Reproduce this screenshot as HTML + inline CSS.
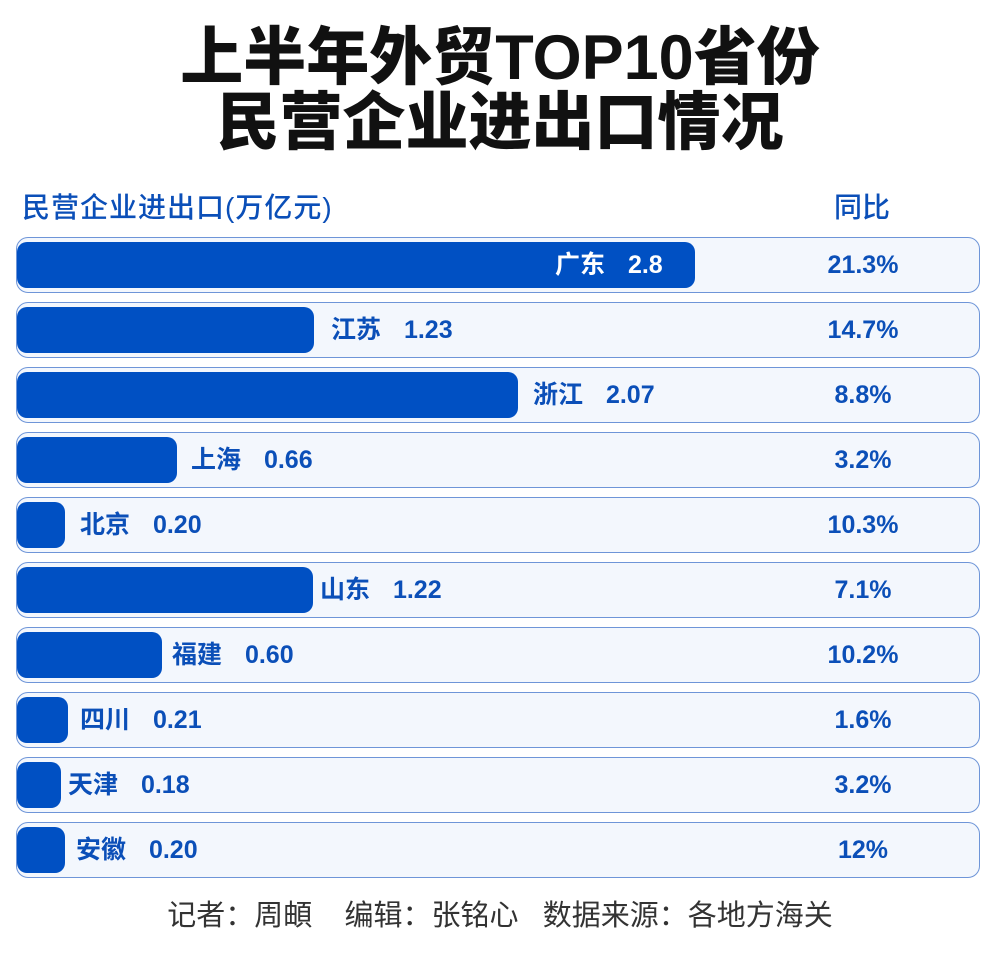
<!DOCTYPE html>
<html><head><meta charset="utf-8"><style>
body{margin:0;width:1000px;height:955px;background:#fff;font-family:"Liberation Sans","Noto Sans CJK SC",sans-serif;position:relative;overflow:hidden}
.t{position:absolute;left:0;width:1000px;text-align:center;font-size:63px;font-weight:900;color:#111;line-height:66px}
.h{position:absolute;font-size:28px;color:#0b4fb8;font-weight:500;line-height:30px}
.row{position:absolute;left:16px;width:962px;height:54px;border:1.5px solid #6e95d8;border-radius:12px;background:#f3f7fd}
.bar{position:absolute;left:0;top:4px;height:46px;background:#0050c3;border-radius:10px}
.lb{position:absolute;top:0;line-height:54px;font-size:25px;font-weight:700;color:#0b4fb8;white-space:nowrap}
.lb b{margin-left:16px}
.p{position:absolute;left:776px;width:140px;text-align:center;top:0;line-height:54px;font-size:25px;font-weight:700;color:#0b4fb8}
.f{position:absolute;top:898px;left:0;width:1000px;text-align:center;font-size:29px;color:#333;line-height:36px;white-space:pre}
</style></head><body>
<div class="t" style="top:25px">上半年外贸TOP10省份</div>
<div class="t" style="top:90px">民营企业进出口情况</div>
<div class="h" style="left:22px;top:193px;letter-spacing:1px">民营企业进出口(万亿元)</div>
<div class="h" style="left:834px;top:193px">同比</div>

<div class="row" style="top:237px"><div class="bar" style="width:678px"></div><div class="lb" style="left:538px;color:#fff">广东 <b>2.8</b></div><div class="p">21.3%</div></div>
<div class="row" style="top:302px"><div class="bar" style="width:297px"></div><div class="lb" style="left:314px">江苏 <b>1.23</b></div><div class="p">14.7%</div></div>
<div class="row" style="top:367px"><div class="bar" style="width:501px"></div><div class="lb" style="left:516px">浙江 <b>2.07</b></div><div class="p">8.8%</div></div>
<div class="row" style="top:432px"><div class="bar" style="width:160px"></div><div class="lb" style="left:174px">上海 <b>0.66</b></div><div class="p">3.2%</div></div>
<div class="row" style="top:497px"><div class="bar" style="width:48px"></div><div class="lb" style="left:63px">北京 <b>0.20</b></div><div class="p">10.3%</div></div>
<div class="row" style="top:562px"><div class="bar" style="width:296px"></div><div class="lb" style="left:303px">山东 <b>1.22</b></div><div class="p">7.1%</div></div>
<div class="row" style="top:627px"><div class="bar" style="width:145px"></div><div class="lb" style="left:155px">福建 <b>0.60</b></div><div class="p">10.2%</div></div>
<div class="row" style="top:692px"><div class="bar" style="width:51px"></div><div class="lb" style="left:63px">四川 <b>0.21</b></div><div class="p">1.6%</div></div>
<div class="row" style="top:757px"><div class="bar" style="width:44px"></div><div class="lb" style="left:51px">天津 <b>0.18</b></div><div class="p">3.2%</div></div>
<div class="row" style="top:822px"><div class="bar" style="width:48px"></div><div class="lb" style="left:59px">安徽 <b>0.20</b></div><div class="p">12%</div></div>

<div class="f">记者：周頔    编辑：张铭心   数据来源：各地方海关</div>
</body></html>
